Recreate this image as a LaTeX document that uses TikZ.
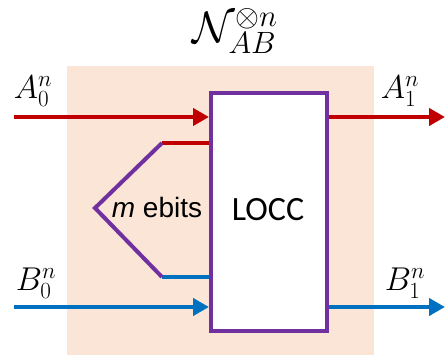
\RequirePackage{fix-cm}
\documentclass[tikz,border=0pt]{standalone}
\usepackage{fontspec}
\newfontfamily\arialf{Liberation Sans}
\newfontfamily\calibrif{Carlito}
\usetikzlibrary{arrows.meta}
\definecolor{cred}{HTML}{C00000}
\definecolor{cblue}{HTML}{0070C0}
\definecolor{cpurple}{HTML}{7030A0}
\definecolor{cpeach}{HTML}{FBE5D6}
\tikzset{
  wire/.style={line width=4.5pt},
  arr/.style={wire,-{Triangle[length=16pt,width=17pt]}},
  mlabel/.style={font=\fontsize{33}{38}\selectfont, inner sep=0pt},
}
\begin{document}
\begin{tikzpicture}[x=1pt,y=-1pt]
\useasboundingbox (0,0) rectangle (447,358);
\fill[cpeach] (67,66) rectangle (374,355);
\node[draw=cpurple, fill=white, line width=4pt, minimum width=116pt, minimum height=238pt, inner sep=0pt] (box) at (269,212) {};
\node[font=\calibrif\fontsize{34}{38}\selectfont, inner sep=0pt] (locc) at (268,210) {LOCC};
\coordinate (a0) at (14,117);
\coordinate (a1) at (445,117);
\coordinate (b0) at (14,307);
\coordinate (b1) at (445,307);
\coordinate (e1) at (162,143);
\coordinate (apex) at (95,208);
\coordinate (e2) at (162,277);
\draw[arr, cred] (a0) -- (box.west |- a0);
\draw[arr, cred] (box.east |- a1) -- (a1);
\draw[arr, cblue] (b0) -- (box.west |- b0);
\draw[arr, cblue] (box.east |- b1) -- (b1);
\draw[wire, cred] (e1) -- (box.west |- e1);
\draw[wire, cblue] (e2) -- (box.west |- e2);
\draw[cpurple, line width=4pt, line join=miter] (e1) -- (apex) -- (e2);
\node[font=\arialf\fontsize{28}{32}\selectfont, inner sep=0pt] (ebits) at (157,207) {\textit{m} ebits};
\node[mlabel] (la0) at (33,91) {$A_0^n$};
\node[mlabel] (la1) at (400,91) {$A_1^n$};
\node[mlabel] (lb0) at (36,283) {$B_0^n$};
\node[mlabel] (lb1) at (405,283) {$B_1^n$};
\node[font=\fontsize{44}{48}\selectfont, inner sep=0pt] (title) at (235,31) {$\mathcal{N}_{AB}^{\otimes n}$};
\end{tikzpicture}
\end{document}
